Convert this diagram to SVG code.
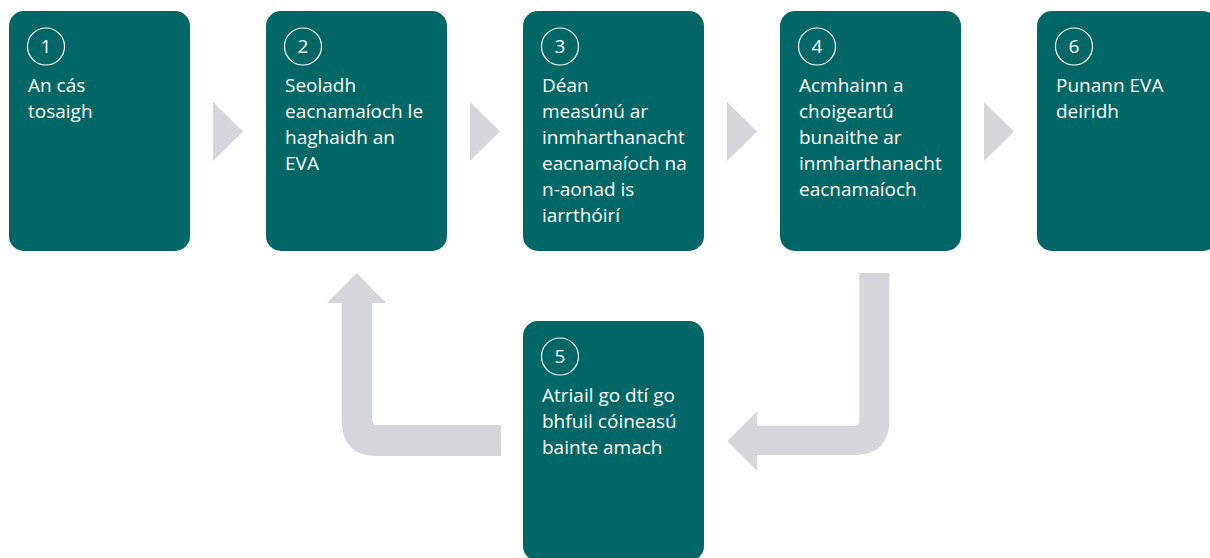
<svg xmlns="http://www.w3.org/2000/svg" width="1210" height="558" viewBox="0 0 1210 558">
<style>
.box{fill:#006766}
.ring{fill:none;stroke:#ffffff;stroke-width:1.2}
.num{fill:#ffffff;font-family:"Open Sans","Noto Sans",sans-serif;font-size:19px;text-anchor:middle}
.lbl{fill:#ffffff;font-family:"Open Sans","Noto Sans",sans-serif;font-size:19px}
.arr{fill:#d5d6db}
</style>
<g id="connectors">
<polygon class="arr" points="213,102 243,131.5 213,161"/>
<polygon class="arr" points="470,102 500,131.5 470,161"/>
<polygon class="arr" points="727,102 757,131.5 727,161"/>
<polygon class="arr" points="984,102 1014,131.5 984,161"/>
<path class="arr" d="M356.7,273 L386,303 L372.3,303 L372.3,420 Q372.3,425 377.3,425 L501,425 L501,456 L377,456 Q341.7,456 341.7,420 L341.7,303 L327,303 Z"/>
<path class="arr" d="M859.3,273 L889.3,273 L889.3,420 Q889.3,455 854.3,455 L757.3,455 L757.3,471 L727.3,441 L757.3,411 L757.3,425.7 L854.3,425.7 Q859.3,425.7 859.3,420.7 Z"/>
</g>
<g id="node1">
<rect class="box" x="9" y="11" width="181" height="240" rx="15"/>
<circle class="ring" cx="46" cy="46.5" r="18.5"/>
<text class="num" x="46" y="53.3">1</text>
<text class="lbl" x="28" y="92">An cás</text>
<text class="lbl" x="28" y="118">tosaigh</text>
</g>
<g id="node2">
<rect class="box" x="266" y="11" width="181" height="240" rx="15"/>
<circle class="ring" cx="303" cy="46.5" r="18.5"/>
<text class="num" x="303" y="53.3">2</text>
<text class="lbl" x="285" y="92">Seoladh</text>
<text class="lbl" x="285" y="118">eacnamaíoch le</text>
<text class="lbl" x="285" y="144">haghaidh an</text>
<text class="lbl" x="285" y="170">EVA</text>
</g>
<g id="node3">
<rect class="box" x="523" y="11" width="181" height="240" rx="15"/>
<circle class="ring" cx="560" cy="46.5" r="18.5"/>
<text class="num" x="560" y="53.3">3</text>
<text class="lbl" x="542" y="92">Déan</text>
<text class="lbl" x="542" y="118">measúnú ar</text>
<text class="lbl" x="542" y="144">inmharthanacht</text>
<text class="lbl" x="542" y="170">eacnamaíoch na</text>
<text class="lbl" x="542" y="196">n-aonad is</text>
<text class="lbl" x="542" y="222">iarrthóirí</text>
</g>
<g id="node4">
<rect class="box" x="780" y="11" width="181" height="240" rx="15"/>
<circle class="ring" cx="817" cy="46.5" r="18.5"/>
<text class="num" x="817" y="53.3">4</text>
<text class="lbl" x="799" y="92">Acmhainn a</text>
<text class="lbl" x="799" y="118">choigeartú</text>
<text class="lbl" x="799" y="144">bunaithe ar</text>
<text class="lbl" x="799" y="170">inmharthanacht</text>
<text class="lbl" x="799" y="196">eacnamaíoch</text>
</g>
<g id="node6">
<rect class="box" x="1037" y="11" width="181" height="240" rx="15"/>
<circle class="ring" cx="1074" cy="46.5" r="18.5"/>
<text class="num" x="1074" y="53.3">6</text>
<text class="lbl" x="1056" y="92">Punann EVA</text>
<text class="lbl" x="1056" y="118">deiridh</text>
</g>
<g id="node5">
<rect class="box" x="523" y="321" width="181" height="240" rx="15"/>
<circle class="ring" cx="560" cy="356.5" r="18.5"/>
<text class="num" x="560" y="363.3">5</text>
<text class="lbl" x="542" y="402">Atriail go dtí go</text>
<text class="lbl" x="542" y="428">bhfuil cóineasú</text>
<text class="lbl" x="542" y="454">bainte amach</text>
</g>
</svg>
